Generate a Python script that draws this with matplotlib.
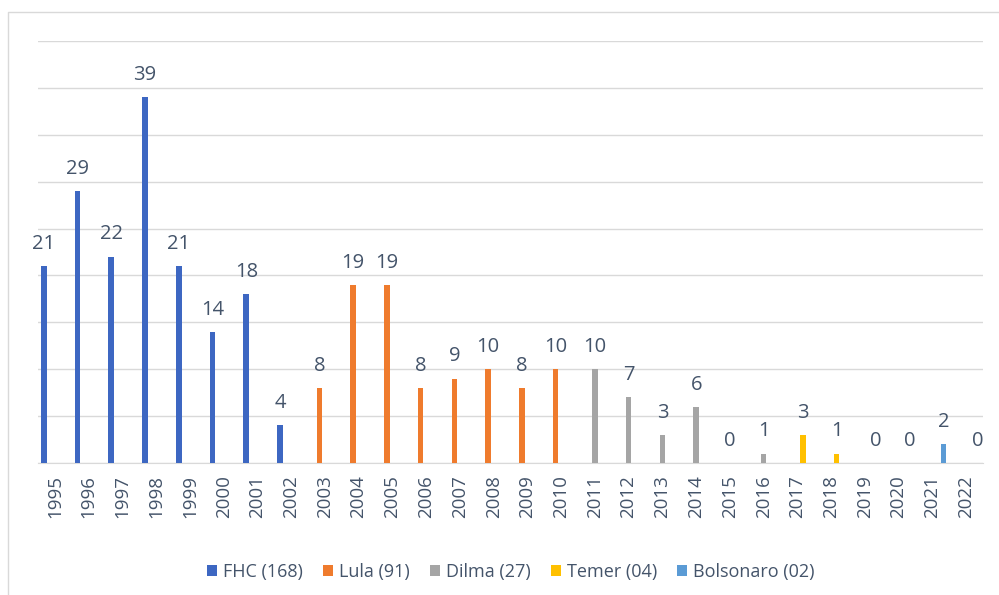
import numpy as np
import matplotlib
matplotlib.use("Agg")
import matplotlib.pyplot as plt
from matplotlib.lines import Line2D

years = [str(y) for y in range(1995, 2023)]
nan = np.nan

# one series per president, NaN where that president was not in office
fhc = [21, 29, 22, 39, 21, 14, 18, 4] + [nan] * 20
lula = [nan] * 8 + [8, 19, 19, 8, 9, 10, 8, 10] + [nan] * 12
dilma = [nan] * 16 + [10, 7, 3, 6, 0, 1] + [nan] * 6
temer = [nan] * 22 + [3, 1] + [nan] * 4
bolsonaro = [nan] * 24 + [0, 0, 2, 0]

series = [
    ("FHC (168)", fhc, "#3d67c2"),
    ("Lula (91)", lula, "#ef7b2d"),
    ("Dilma (27)", dilma, "#a5a5a5"),
    ("Temer (04)", temer, "#ffc000"),
    ("Bolsonaro (02)", bolsonaro, "#5b9bd5"),
]

txt = "#44546a"
plt.rcParams['font.family'] = ['Open Sans', 'DejaVu Sans']

fig = plt.figure(figsize=(9.99, 5.95), dpi=100)
ax = fig.add_axes([38 / 999, 1 - 463 / 595, 945 / 999, 422 / 595])

# chart border (only left and top edges are visible in the crop)
fig.lines.append(Line2D([8 / 999, 8 / 999, 1.0], [0.0, 1 - 12 / 595, 1 - 12 / 595],
                        transform=fig.transFigure, color="#d9d9d9", linewidth=1))

x = np.arange(len(years))
w = 0.165
for i, (name, vals, col) in enumerate(series):
    vals = np.array(vals, dtype=float)
    pos = x + (i - 2) * w
    ax.bar(pos, np.nan_to_num(vals), width=w, color=col, label=name, zorder=3)
    for p, v in zip(pos, vals):
        if not np.isnan(v):
            ax.text(p, v + 1.3, "%d" % v, ha="center", va="bottom",
                    fontsize=14.5, color=txt)

ax.set_ylim(0, 45)
ax.set_xlim(-0.5, len(years) - 0.5)
ax.set_yticks(np.arange(0, 46, 5))
ax.yaxis.grid(True, color="#d9d9d9", linewidth=1, zorder=0)
ax.tick_params(axis="y", length=0, labelleft=False)
ax.set_xticks(x)
ax.set_xticklabels(years, rotation=90, fontsize=13.5, color=txt)
ax.tick_params(axis="x", length=0, pad=9)
for s in ["top", "right", "left"]:
    ax.spines[s].set_visible(False)
ax.spines["bottom"].set_color("#d9d9d9")

fig.legend(loc="center", bbox_to_anchor=(511 / 999, 1 - 572 / 595), ncol=5,
           frameon=False, fontsize=13, handlelength=0.55, handleheight=0.55,
           handletextpad=0.35, columnspacing=1.1, labelcolor=txt)

plt.savefig("out.png", dpi=100)
